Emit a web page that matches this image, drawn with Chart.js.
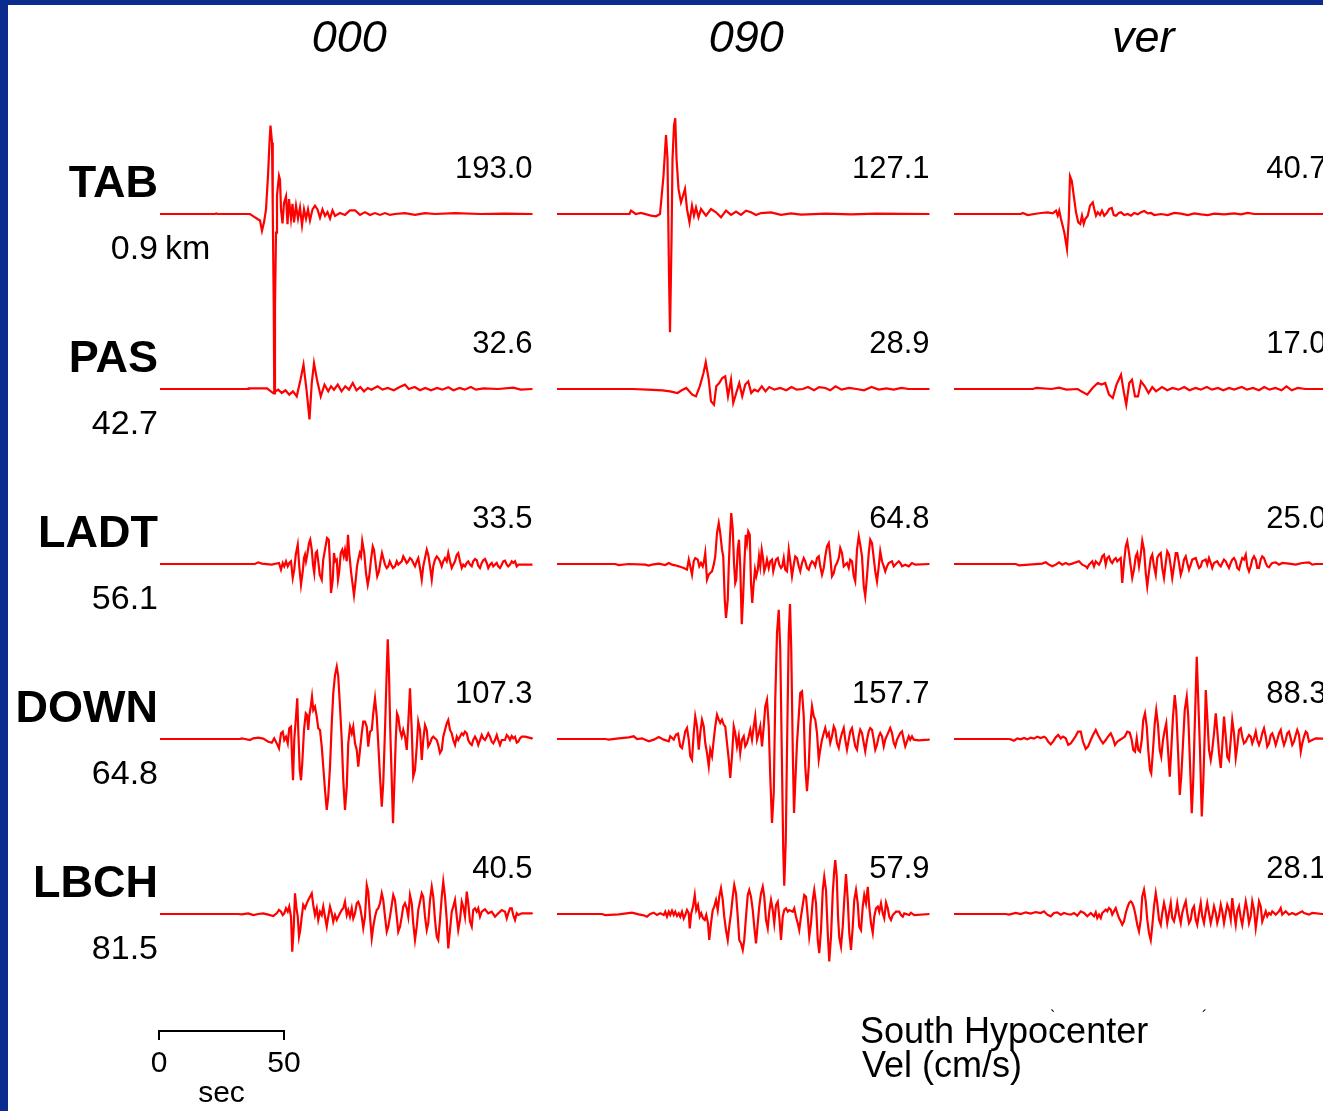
<!DOCTYPE html>
<html>
<head>
<meta charset="utf-8">
<script src="https://cdn.jsdelivr.net/npm/chart.js@4.4.1/dist/chart.umd.min.js"></script>
<style>
  html, body { margin: 0; padding: 0; background: #fff; }
  #wrap { width: 1323px; height: 1111px; }
</style>
</head>
<body>
<div id="wrap"><canvas id="seisChart" width="1323" height="1111"></canvas></div>
<script>
// stations (rows), components (columns), epicentral distance (km) and peak velocity (cm/s)
const STATIONS = ['TAB', 'PAS', 'LADT', 'DOWN', 'LBCH'];
const DISTANCES = ['0.9', '42.7', '56.1', '64.8', '81.5'];
const COMPONENTS = ['000', '090', 'ver'];
const PEAKS = [
    [193.0, 127.1, 40.7],
    [32.6, 28.9, 17.0],
    [33.5, 64.8, 25.0],
    [107.3, 157.7, 88.3],
    [40.5, 57.9, 28.1]
];
const SCALE_BAR = [0, 50];   // sec

// traces: [time (s), velocity (cm/s)]
const TAB_000 = [[0,0],[22,0],[22.5,0.5],[23,0],[36,0],[38,-3.6],[39,-5.4],[40,-7],[40.8,-18],[41.6,-9],[42.4,5],[43.2,41],[43.8,77],[44.2,95],[44.8,77],[45.1,5],[45.5,-100],[45.7,-193],[46,-100],[46.4,-20],[46.8,20],[47.6,41],[48,37],[48.4,5],[49,-10],[49.6,12],[50.4,19],[51,-11],[51.6,16],[52.4,-5],[53,11],[53.6,-9],[54.4,9],[55.2,-5],[56,7],[56.8,-12],[57.6,5],[58.4,-5],[59.2,5],[60,-7],[61,5],[62,9],[63,5],[64,-4],[65,5],[66,-2],[67,2],[68,-5],[69,4],[70,-2],[72,1],[74,-1],[76,4],[78,4],[80,-1],[82,2],[84,-1],[86,1],[88,-1],[90,1],[92,-1],[94,0],[98,1],[102,-1],[106,1],[110,0],[118,1],[128,0],[138,0.5],[149,0]];
const TAB_090 = [[0,0],[29,0],[29.6,3.6],[31.5,0],[33.6,1.1],[37.6,-1.8],[39.6,-2.5],[41.2,0],[42.6,41],[43.6,85],[44.2,59],[44.8,-66],[45.2,-127.1],[45.8,-30],[46.2,59],[46.8,95],[47.3,103],[47.8,60],[48.6,27],[49.6,12.5],[50.6,21.5],[51.2,27],[52,5.4],[53,-9],[54,9],[54.8,-1.8],[55.6,7],[56.6,-3.6],[57.6,5.4],[59.6,-1.8],[61.6,5.4],[63.6,1.8],[65.6,-3.6],[67.6,3.6],[69.6,-1],[71.6,2.5],[73.6,-1],[75.6,3.6],[77.6,1.8],[79.6,-1],[81.6,1],[85.6,1.8],[89.6,-1],[93.6,0.7],[97.6,-0.7],[107.6,0.4],[117.6,-0.4],[127.6,0.4],[149,0]];
const TAB_VER = [[0,0],[26.8,0],[27.5,1.1],[29.5,-1.1],[32.1,0],[34.8,1.1],[37.5,1.8],[39.5,0.7],[40.8,3.6],[41.5,-1.8],[42.1,3.6],[42.8,-5.4],[44.1,-19.7],[45.2,-37.6],[45.9,-5.4],[46.4,40.7],[47.1,35.8],[47.9,19.7],[48.8,1.8],[49.7,-9],[50.5,-10.7],[51.2,-1.8],[51.9,-10.7],[52.5,-5.4],[53.5,-1.8],[54.4,9],[55.5,12.5],[56.1,5.4],[56.8,-1.8],[57.5,1.8],[58.4,-1.1],[59.2,3.6],[60.1,-1.8],[61.1,1.1],[62.1,5.4],[63.1,6.4],[63.9,-1.1],[64.8,-1.8],[65.9,1.1],[66.8,1.8],[68.1,-1.1],[69.5,0],[70.8,-1.8],[72.1,1.1],[73.5,-0.4],[74.8,1.8],[76.1,3.2],[77.5,0.7],[78.8,1.1],[80.1,-1.1],[82.8,0],[85.5,-1.1],[88.1,1.1],[90.8,0.4],[93.5,-1.1],[96.1,0.7],[98.8,-0.4],[101.5,-1.1],[104.1,0.4],[108.1,-0.4],[112.1,0.7],[114.8,-0.4],[117.5,1.1],[120.1,0],[149,0]];

const PAS_000 = [[0,0],[35.3,0],[35.5,0.7],[42.8,0.7],[45.2,-4.3],[47.3,-0.7],[48.7,-4.3],[50.2,-1.4],[51.7,-6.1],[53.2,-2.5],[54.7,-7.9],[56.2,10],[57.4,26.1],[58.6,-0.7],[59.8,-32.6],[60.7,6.4],[61.6,27.9],[62.8,10],[64.3,-7.9],[65.8,4.7],[67.3,-2.5],[68.4,2.9],[69.6,-0.7],[71.1,4.7],[72.6,-2.5],[74.1,2.9],[75.6,-0.7],[77.1,6.4],[78.6,-1.4],[80.1,2.1],[81.6,-2.5],[83.1,1.1],[84.6,-0.7],[87,2.9],[89,-0.7],[91.1,1.1],[93.5,-1.4],[95.9,2.1],[98,4.7],[99.5,0],[101.9,2.1],[104,-1.4],[106.1,1.1],[108.4,-1.4],[110.8,1.1],[112.9,-0.7],[115.3,1.8],[117.4,-1.4],[119.8,1.1],[121.9,-0.7],[124.3,2.1],[126.4,-0.7],[129.3,0.7],[135.3,0],[141.3,1.4],[144.3,-0.7],[149,0]];
const PAS_090 = [[0,0],[30.2,0],[36.2,-0.7],[42.2,-1.4],[45.2,-2.5],[48.2,-4.3],[49.9,-1.4],[51.7,1.1],[52.9,-2.5],[54.1,-6.1],[55.6,-7.9],[57.1,2.9],[58.6,17.2],[59.5,28.9],[60.7,10],[61.6,-13.2],[62.8,-16.8],[63.7,2.9],[64.9,6.4],[66.1,11.8],[67.3,13.6],[68.4,-7.9],[69.6,10],[70.5,-15],[71.7,-4.3],[72.9,6.4],[74.1,-7.9],[75.3,4.7],[76.5,8.2],[77.7,-4.3],[78.9,-0.7],[80.4,-2.5],[81.9,2.9],[83.4,-2.5],[84.9,2.1],[87,-0.7],[89.3,1.1],[91.7,-1.4],[93.8,2.1],[95.9,-0.7],[98.3,0],[100.4,2.1],[102.8,-1.4],[104.9,2.1],[107.3,1.1],[109.3,-1.4],[111.4,2.9],[113.8,-0.7],[116.8,1.1],[119.8,0],[122.8,-1.4],[125.8,2.1],[128.7,-0.7],[131.7,0.7],[134.7,-0.7],[137.7,1.1],[140.7,0],[149,0]];
const PAS_VER = [[0,0],[31.5,0],[33,1.1],[39,0],[42,1.4],[45,-0.7],[49.5,0],[50.9,-2.5],[53.3,-6.1],[55.4,1.1],[57.5,6.4],[59,4.7],[60.5,6.4],[62,-6.1],[63.5,-9.7],[65,4.7],[66.8,15.4],[68,-4.3],[68.9,-17],[70.1,6.4],[71.2,10],[72.4,-7.9],[73.6,-7.9],[74.8,8.2],[76.3,2.9],[77.8,-4.3],[79.3,2.1],[80.8,-2.5],[83.2,2.1],[85.3,-1.4],[87.4,1.1],[89.8,-0.7],[92.1,2.1],[94.2,-1.4],[96.6,1.1],[98.7,-0.7],[101.1,2.1],[103.2,-0.7],[105.6,1.1],[107.7,-1.4],[110,1.1],[112.1,-0.7],[115.1,2.1],[117.2,-0.7],[119.6,1.1],[122,-1.4],[124.1,2.1],[126.2,-0.7],[128.6,1.1],[131,-1.4],[133,2.9],[135.1,-1.4],[137.5,1.1],[140.5,0],[149,0]];

const LADT_000 = [[0,0],[38,0],[39.3,1.8],[40.7,0.4],[44.7,-0.7],[47.6,1.1],[48.4,-6.1],[49.1,1.1],[49.7,-2.5],[50.4,2.9],[51.1,-2.5],[51.7,1.1],[52.4,2.9],[53.1,-15],[53.7,-6.1],[54.3,10],[55.1,20.8],[55.7,-2.5],[56.4,-22.2],[57.1,-7.9],[57.6,6.4],[58,10],[58.4,2.9],[58.9,10],[59.6,22.5],[60.1,26.1],[60.7,15.4],[61.2,-0.7],[61.7,-9.7],[62.3,11.8],[62.8,13.6],[63.3,2.9],[63.9,-11.5],[64.7,-16.8],[65.3,4.7],[66,15.4],[66.8,27.9],[67.5,26.1],[68,1.1],[68.4,-31.2],[69.1,-16.8],[69.6,11.8],[70.1,2.9],[70.7,4.7],[71.2,-16.8],[71.7,-7.9],[72.3,11.8],[72.9,15.4],[73.5,8.2],[74,15.4],[74.7,2.9],[75.2,31.5],[75.7,11.8],[76.4,-7.9],[76.9,-18.6],[77.6,-33.5],[78.3,-16.8],[78.8,-2.5],[79.3,4.7],[79.9,11.8],[80.4,8.2],[80.9,24.7],[81.7,11.8],[82.4,-9.7],[83.1,-22.2],[83.7,-13.2],[84.4,4.7],[85.1,19],[85.6,15.4],[86.3,-0.7],[86.9,-13.2],[87.6,-7.9],[88.3,4.7],[88.8,11.8],[89.3,6.4],[90,-0.7],[90.7,-4.3],[91.3,-2.5],[91.9,2.9],[92.5,-0.7],[93.2,-4.3],[94,-2.5],[94.7,2.9],[95.3,-0.7],[96.7,2.9],[97.3,8.2],[98,4.7],[98.7,1.1],[99.3,2.9],[100,6.4],[100.7,4.7],[101.3,1.1],[102,-2.5],[102.7,2.9],[103.3,6.4],[104,-4.3],[104.7,-16.8],[105.3,-2.5],[106,6.4],[106.7,15.4],[107.3,10],[108,-2.5],[108.7,-16.8],[109.3,-2.5],[110,4.7],[110.7,8.2],[111.3,6.4],[112,2.9],[112.7,-2.5],[113.3,2.9],[114,6.4],[114.7,2.9],[115.3,11.8],[116,2.9],[116.7,-4.3],[117.3,-0.7],[118,2.9],[118.7,10],[119.3,11.8],[120,2.9],[120.7,-4.3],[121.3,-0.7],[122,-2.5],[122.7,1.1],[123.3,2.9],[124,-0.7],[124.7,-2.5],[125.3,2.9],[126,5.4],[126.7,4],[127.3,-1.8],[128,-4.3],[128.7,1.1],[129.3,4],[130,5.4],[130.7,1.1],[131.3,-4.3],[132,-0.7],[132.7,1.1],[133.3,-2.5],[134.7,1.1],[135.3,-2.5],[136,-4.3],[136.7,-0.7],[137.3,2.9],[138,3.6],[138.7,-0.7],[139.3,-2.5],[140,-0.7],[140.7,2.9],[141.3,1.1],[142,2.9],[142.7,-2.5],[143.3,-0.7],[149,-0.7]];
const LADT_090 = [[0,0],[23.3,0],[24.7,-1.1],[28.7,0],[35.3,-0.7],[36.7,-1.8],[38,-0.7],[40.7,0.4],[43.3,-1.1],[44.7,1.1],[46,-0.7],[47.3,-1.4],[48.7,-2.5],[50.7,-4.3],[52,-6.1],[52.7,4.7],[53.3,-2.5],[54,-11.5],[54.7,2.9],[55.3,6.4],[56.3,4.7],[56.9,-2.5],[57.6,1.1],[58.3,-2.5],[58.8,2.9],[59.3,11.8],[60,-16.8],[60.7,-11.5],[61.3,-9.7],[62,-7.9],[62.7,-0.7],[63.3,8.2],[64,33.3],[64.7,44],[65.3,33.3],[66,15.4],[66.5,8.2],[67.1,-38.3],[67.6,-58],[68.3,-38.3],[68.7,-2.5],[69.2,29.7],[69.7,54.8],[70.3,36.9],[70.8,1.1],[71.3,-20.4],[71.7,-16.8],[72.3,15.4],[72.8,26.1],[73.3,-2.5],[73.9,-64.8],[74.4,-38.3],[74.9,-2.5],[75.5,31.5],[76,22.5],[76.5,35.1],[77.1,31.5],[77.6,-20.4],[78.1,-41.9],[78.7,-20.4],[79.2,-6.1],[79.7,-13.2],[80.3,-6.1],[80.8,8.2],[81.3,-2.5],[81.9,15.4],[82.4,6.4],[82.9,-7.9],[83.5,-2.5],[84,4.7],[84.7,-4.3],[85.3,2.9],[86,4.7],[86.5,-7.9],[87.1,-0.7],[87.6,4.7],[88.3,6.4],[88.9,-0.7],[89.6,-4.3],[90.1,-2.5],[90.7,6.4],[91.3,-6.1],[92,-7.9],[92.7,15.4],[93.3,2.9],[94,-13.2],[94.7,-0.7],[95.3,8.2],[96,6.4],[96.7,-2.5],[97.3,-7.9],[98,1.1],[98.7,6.4],[99.3,2.9],[100,-4.3],[100.7,-6.1],[101.3,-0.7],[102,2.9],[102.7,1.1],[103.3,-2.5],[104,6.4],[104.7,8.2],[105.3,-2.5],[106,-11.5],[106.7,-4.3],[107.3,8.2],[108,19],[108.7,22.5],[109.3,8.2],[110,-13.2],[110.7,-9.7],[111.3,-2.5],[112,1.1],[112.7,6.4],[113.3,17.2],[114,11.8],[114.7,-2.5],[116,1.1],[116.7,-4.3],[117.3,4.7],[118,2.9],[118.7,-13.2],[119.3,-18.6],[120,15.4],[120.7,29.7],[121.3,20.8],[122,8.2],[122.7,-24],[123.3,-34.7],[124,-13.2],[124.7,11.8],[125.3,26.1],[126,22.5],[126.7,6.4],[127.3,-7.9],[128,-18.6],[128.7,-2.5],[129.3,13.6],[130,2.9],[130.7,-2.5],[131.3,-7.9],[132,-2.5],[132.7,1.1],[134,2.9],[134.7,-2.5],[135.3,-0.7],[136.7,2.9],[137.3,1.1],[138,-2.5],[139.3,-0.7],[140.7,-2.5],[142,1.1],[143.3,-0.7],[149,0]];
const LADT_VER = [[0,0],[24.7,0],[26,-1.4],[35.3,0.4],[36.7,1.8],[38,-0.7],[39.3,-2.5],[40.7,-0.7],[42,1.8],[43.3,-0.7],[44.7,1.1],[46,-0.7],[47.3,0.4],[48.7,1.8],[50,2.9],[51.3,-0.7],[52.7,-2.5],[53.3,-4.3],[54,-0.7],[54.7,1.1],[55.3,2.9],[56,-2.5],[56.7,2.9],[57.3,1.1],[58,-0.7],[58.7,2.9],[59.3,8.2],[60,10],[60.7,-0.7],[61.3,6.4],[62,8.2],[62.7,2.9],[63.3,1.1],[64,4.7],[64.7,6.4],[65.3,2.9],[66,4.7],[66.7,6.4],[67.3,-20.4],[68,1.1],[68.7,19],[69.3,24.3],[70,11.8],[70.7,-2.5],[71.3,-15],[72,-6.1],[72.7,8.2],[73.3,11.8],[74,-2.5],[74.7,10],[75.3,25],[76,15.4],[76.7,-9.7],[77.3,-24],[78,-7.9],[78.7,6.4],[79.3,10],[80,-2.5],[80.7,-11.5],[81.3,6.4],[82,10],[82.7,11.8],[83.3,-4.3],[84,-15],[84.7,1.1],[85.3,13.6],[86,10],[86.7,-2.5],[87.3,-15],[88,-2.5],[88.7,11.8],[89.3,11.8],[90,1.1],[90.7,-11.5],[91.3,-6.1],[92,4.7],[92.7,8.2],[93.3,1.1],[94,-6.1],[94.7,-0.7],[95.3,4.7],[96.7,6.4],[97.3,1.1],[98,-4.3],[98.7,-2.5],[99.3,2.9],[100.7,4.7],[101.3,-0.7],[102,6.4],[102.7,1.1],[103.3,-4.3],[104,1.1],[105.3,2.9],[106,-0.7],[106.7,-2.5],[107.3,1.1],[108,4.7],[108.7,2.9],[109.3,-0.7],[110,-4.3],[110.7,1.1],[111.3,4.7],[112,6.4],[112.7,2.9],[113.3,-4.3],[114,-6.1],[114.7,1.1],[115.3,6.4],[116,4.7],[116.7,10],[117.3,-2.5],[118,-7.9],[118.7,-2.5],[119.3,4.7],[120,8.2],[120.7,4.7],[121.3,-4.3],[122,-4.3],[122.7,4.7],[123.3,8.2],[124,6.4],[124.7,1.1],[125.3,-2.5],[126,-3.6],[126.7,-0.7],[127.3,1.1],[128.7,1.8],[130,-0.7],[131.3,1.1],[134,0.4],[136.7,-0.7],[139.3,1.1],[142,1.8],[143.3,-0.7],[144.7,0],[149,0]];

const DOWN_000 = [[0,0],[32,0],[32.7,0.7],[34,0],[36,-1.1],[37.3,0.7],[39.3,1.4],[41.3,0.4],[43.3,-2.9],[44.7,-4],[45.7,0.7],[46.7,-4.7],[47.6,-10],[48.4,6.1],[49.1,7.9],[49.7,-1.1],[50.4,2.5],[51.1,-4.7],[51.7,11.5],[52.4,13.2],[52.8,-18.6],[53.2,-44.4],[53.7,-1.1],[54.4,23.9],[54.9,43.7],[55.3,9.7],[55.9,-33.2],[56.4,-44.4],[56.9,-26.1],[57.6,9.7],[58.3,27.6],[58.8,25.8],[59.3,9.7],[59.7,24],[60.3,34.7],[60.8,45.5],[61.3,31.1],[62,34.7],[62.7,24],[63.3,11.5],[64,9.7],[64.7,-8.2],[65.3,-29.7],[66,-54.8],[66.7,-76.2],[67.3,-61.9],[68,-29.7],[68.7,16.8],[69.3,49],[70,68.7],[70.7,77.7],[71.3,67],[72,34.7],[72.7,-1.1],[73.3,-44],[74,-76.2],[74.7,-51.2],[75.3,-4.7],[76,13.2],[76.7,6.1],[77.3,13.2],[78,-4.7],[78.7,-11.8],[79.3,-29.7],[80,-11.8],[80.7,6.1],[81.3,18.6],[82,18.6],[82.7,13.2],[83.3,-8.2],[84,7.9],[84.7,9.7],[85.3,27.6],[86,43.7],[86.7,24],[87.3,-4.7],[88,-40.5],[88.7,-72.7],[89.3,-47.6],[90,9.7],[90.7,74.2],[91.1,107.3],[91.6,70.6],[92.1,9.7],[92.7,-44],[93.2,-90.6],[93.7,-51.2],[94.3,-1.1],[94.8,27.6],[95.3,24],[96,9.7],[96.7,2.5],[97.3,9.7],[98,2.5],[98.7,-11.8],[99.3,16.8],[100,54.4],[100.7,9.7],[101.3,-40.5],[102,-33.3],[102.7,-8.2],[103.3,18.6],[104,9.7],[104.7,-22.6],[105.3,-1.1],[106,15],[106.7,9.7],[107.3,-8.2],[108,-4.7],[108.7,0.7],[109.3,2.5],[110.7,-1.1],[111.3,-6.4],[112,-15],[112.7,-11.8],[113.3,2.5],[114,9.7],[114.7,16.8],[115.3,20.4],[116,9.7],[116.7,6.1],[117.3,-1.1],[118,-6.4],[118.7,2.5],[119.3,-1.1],[120.7,6.1],[121.3,4.3],[122,7.9],[122.7,6.1],[123.3,-1.1],[124,-4.7],[124.7,-6.4],[125.3,-1.1],[126,2.5],[126.7,-1.1],[127.3,-6.4],[128,-1.1],[128.7,4.3],[129.3,0.7],[130,-1.1],[130.7,2.5],[131.3,6.1],[132,2.5],[132.7,-2.9],[133.3,-4.7],[134,-1.1],[134.7,4.3],[135.3,-1.1],[136,-6.4],[136.7,-1.1],[138,-1.1],[138.7,4.3],[139.3,2.5],[140,-1.1],[140.7,3.2],[141.3,0.7],[142,2.5],[142.7,-3.9],[143.3,-2.9],[144,0.7],[144.7,2.5],[146,2.5],[148.7,0.7],[149,0]];
const DOWN_090 = [[0,0],[19.3,0],[20.7,-0.7],[24.7,0.7],[28.7,1.8],[30.7,2.9],[32,0],[34,0.7],[36.7,-2.5],[38.7,-0.7],[40.7,2.1],[42.7,-0.7],[44.7,-2.5],[45.3,2.9],[46.7,-0.7],[47.6,4.7],[48.4,5.7],[49.3,-7.9],[50,-9.7],[50.7,-0.7],[51.3,8.2],[52,11.8],[52.7,-0.7],[53.3,-18.6],[54,-22.2],[54.7,6.4],[55.3,24.3],[56,13.6],[56.7,-11.5],[57.3,6.4],[58,20.8],[58.7,13.6],[59.3,-4.3],[60,-15],[60.7,-29.4],[61.3,-11.5],[62,-18.6],[62.7,-0.7],[63.3,13.6],[64,26.1],[64.7,20.8],[65.3,17.2],[66,20.8],[66.7,15.4],[67.3,13.6],[68,-4.3],[68.7,-22.2],[69.3,-41.9],[70,-18.6],[70.7,13.6],[71.3,6.4],[72,-7.9],[72.7,2.9],[73.3,-15],[74,-0.7],[74.7,2.9],[75.3,-7.9],[76,-4.3],[76.7,2.9],[77.3,10],[78,-0.7],[78.7,13.6],[79.3,24.3],[80,-0.7],[80.7,6.4],[81.3,13.6],[82,-7.9],[82.7,13.6],[83.3,35.1],[84,42.2],[84.7,13.6],[85.3,-40.1],[86,-90.2],[86.7,-58],[87.3,42.2],[88,113.8],[88.7,139],[89.3,96],[90,-29.4],[90.5,-120],[90.9,-157.7],[91.5,-110],[92,-11.5],[92.7,113.8],[93.2,145],[93.7,96],[94.3,-11.5],[94.8,-79.5],[95.3,-47.3],[96,-4.3],[96.7,24.3],[97.3,49.4],[98,51.2],[98.7,24.3],[99.3,-29.4],[100,-56.2],[100.7,-29.4],[101.3,13.6],[102,35.1],[102.7,24.3],[103.3,20.8],[104,6.4],[104.7,-22.2],[105.3,-11.5],[106,-0.7],[106.7,6.4],[107.3,11.8],[108,2.9],[108.7,6.4],[109.3,-4.3],[110,2.9],[110.7,13.6],[111.3,10],[112,-4.3],[112.7,-9.7],[113.3,-0.7],[114,6.4],[114.7,11.8],[115.3,-0.7],[116,-11.5],[116.7,-0.7],[117.3,8.2],[118,11.8],[118.7,1.1],[119.3,-7.9],[120,-11.5],[120.7,2.9],[121.3,10],[122,6.4],[122.7,-4.3],[123.3,-13.2],[124,-0.7],[124.7,8.2],[125.3,11.8],[126,10],[126.7,-0.7],[127.3,-11.5],[128,-6.1],[128.7,2.9],[129.3,6.4],[130,2.9],[130.7,-7.9],[131.3,-0.7],[132.7,8.2],[133.3,11.8],[134,6.4],[134.7,-4.3],[135.3,-7.9],[136,-0.7],[137.3,6.4],[138,8.2],[138.7,-0.7],[139.3,-7.9],[140,-2.5],[140.7,2.9],[141.3,-0.7],[142,2.9],[142.7,-0.7],[144.7,-1.4],[148.7,-0.7],[149,0]];
const DOWN_VER = [[0,0],[22,0],[22.7,-0.4],[24,-1.8],[25.3,0.7],[26.7,-0.4],[28,1.1],[29.3,-0.4],[30.7,1.4],[32,0.4],[33.3,2.5],[34.7,1.1],[36,2.5],[36.7,1.4],[37.7,-2.9],[38.7,-5.7],[39.6,-2.9],[40.7,1.8],[41.7,4.3],[42.7,0.7],[43.6,2.5],[44.7,0.7],[45.7,-6.4],[46.7,-4.7],[47.6,-1.1],[48.7,3.2],[49.6,7.9],[50.7,7.9],[51.6,-2.9],[52.7,-10.7],[53.6,-8.2],[54.7,-1.1],[55.6,4.3],[56.7,9.7],[57.6,4.3],[58.7,-1.1],[59.6,-4.7],[60.7,-1.1],[61.6,2.5],[62.7,6.1],[63.6,0.7],[64.4,-6.4],[65.3,-2.9],[66.3,-1.1],[67.3,0.7],[68.3,2.5],[69.3,7.9],[70.3,6.8],[71.1,-1.1],[71.7,-11.8],[72.4,-13.6],[73.1,0.7],[73.7,-11.8],[74.4,-13.6],[75.1,-1.1],[75.7,20.4],[76.4,27.6],[77.1,13.2],[77.7,-11.8],[78.4,-33.3],[78.9,-36.9],[79.6,-11.8],[80.3,16.8],[80.9,31.1],[81.6,15],[82.3,-11.8],[82.9,-19],[83.6,-1.1],[84.3,9.7],[84.9,16.8],[85.6,-11.8],[86.3,-40.5],[86.9,-11.8],[87.6,24],[88.3,47.3],[88.9,31.1],[89.6,-11.8],[90.3,-60.1],[90.9,-40.5],[91.6,-4.7],[92.3,31.1],[93.1,45.5],[93.7,24],[94.4,-26.1],[95.1,-79.8],[95.7,-44],[96.4,24],[97.1,88.3],[97.7,41.9],[98.4,-11.8],[99.1,-83.4],[99.7,-47.6],[100.3,6.1],[100.7,52.6],[101.3,24],[102,-11.8],[102.7,-22.6],[103.3,-11.8],[104,6.1],[104.7,27.6],[105.3,9.7],[106,-15],[106.7,-31.1],[107.3,-8.2],[108,24],[108.7,2.5],[109.3,-19],[110,-22.6],[110.7,-1.1],[111.3,20.4],[112,6.1],[112.7,-20.4],[113.3,-8.2],[114,9.7],[114.7,11.5],[115.3,2.5],[116,-4.7],[116.7,-2.9],[117.3,0.7],[118,4.3],[118.7,2.5],[119.3,-4.7],[120,0.7],[120.7,7.9],[121.3,-1.1],[122,-6.4],[122.7,-1.1],[123.3,6.1],[124,11.5],[124.7,2.5],[125.3,-8.2],[126,-4.7],[126.7,4.3],[127.3,6.1],[128,0.7],[128.7,-6.4],[129.3,-1.1],[130,6.1],[130.7,9.7],[131.3,0.7],[132,-6.4],[132.7,-1.1],[133.3,6.1],[134,7.9],[134.7,0.7],[135.3,-6.4],[136,-2.9],[136.7,4.3],[137.3,9.7],[138,4.3],[138.7,-13.6],[139.3,-4.7],[140,2.5],[140.7,7.9],[141.3,6.1],[142,-2.9],[143.3,-1.1],[144.7,0.7],[147.3,0.4],[149,0]];

const LBCH_000 = [[0,0],[31.3,0],[32.7,-0.4],[35.3,0.7],[37.3,-1.1],[39.3,0],[41.3,0.7],[43.3,-0.7],[45.3,-2.1],[46.7,0.7],[47.6,4.3],[48.4,2.5],[49.1,-1.1],[49.7,0.7],[50.4,6.1],[51.1,2.5],[51.7,7.9],[52.4,-2.9],[52.9,-40.5],[53.5,-13.6],[54,22.2],[54.5,7.9],[55.1,-2.9],[55.6,-24.3],[56.1,-17.2],[56.7,-2.9],[57.3,9.7],[58,6.1],[58.7,11.5],[59.3,15],[60,18.6],[60.7,22.2],[61.3,9.7],[62,-1.1],[62.7,6.1],[63.3,-6.4],[64,2.5],[64.7,-1.1],[65.3,7.9],[66,-2.9],[66.7,-13.6],[67.3,-2.9],[68,7.9],[68.7,0.7],[69.3,-8.2],[70,-1.1],[70.7,-6.4],[71.3,-2.9],[72,0.7],[72.7,4.3],[73.3,6.1],[74,13.2],[74.7,-1.1],[75.3,4.3],[76,-2.9],[76.7,6.1],[77.3,-4.7],[78,0.7],[78.7,11.5],[79.3,13.2],[80,7.9],[80.7,-2.9],[81.3,-15],[82,-2.9],[82.7,31.1],[83.3,24],[84,-2.9],[84.7,-26.1],[85.3,-13.6],[86,-2.9],[86.7,4.3],[87.3,6.1],[88,11.5],[88.7,22.2],[89.3,15],[90,-2.9],[90.7,-19],[91.3,-13.6],[92,-2.9],[92.7,9.7],[93.3,20.4],[94,15],[94.7,-2.9],[95.3,-19],[96,-13.6],[96.7,-2.9],[97.3,7.9],[98,11.5],[98.7,6.1],[99.3,-2.9],[100,20.4],[100.7,11.5],[101.3,-10],[102,-27.9],[102.7,-13.6],[103.3,4.3],[104,13.2],[104.7,22.2],[105.3,18.6],[106,-2.9],[106.7,-17.2],[107.3,-10],[108,15],[108.7,29.3],[109.3,18.6],[110,-6.4],[110.7,-24.3],[111.3,-27.9],[112,-6.4],[112.7,18.6],[113.3,34.7],[114,18.6],[114.7,-6.4],[115.3,-36.9],[116,-17.2],[116.7,2.5],[117.3,7.9],[118,15],[118.7,-2.9],[119.3,-17.2],[120,-6.4],[120.7,13.2],[121.3,7.9],[122,-2.9],[122.7,24],[123.3,11.5],[124,-8.2],[124.7,-13.6],[125.3,4.3],[126,6.1],[126.7,2.5],[127.3,6.1],[128,-2.9],[128.7,2.5],[130,5],[131.3,0.7],[132.7,2.5],[134,-2.9],[135.3,0.7],[136.7,4.3],[138,2.5],[138.7,-4.7],[139.3,0.7],[140,6.1],[140.7,6.1],[141.3,-1.1],[142,-6.4],[142.7,0.7],[143.3,-1.1],[144.7,0.7],[148.7,0.7],[149,0]];
const LBCH_090 = [[0,0],[18,0],[19.3,-1.1],[24.7,-0.4],[30,1.4],[32.7,-0.4],[34.7,-1.4],[36,-2.9],[37.3,0],[38.7,1.4],[40,-1.1],[41.3,0.7],[42.7,-1.1],[43.3,2.5],[44,-2.9],[44.7,2.5],[45.3,-1.1],[46,3.6],[46.7,-1.1],[47.3,2.5],[48,-2.1],[48.7,0.7],[49.3,-2.9],[50,2.5],[50.7,-4.7],[51.3,-1.1],[52,4.3],[52.7,0.7],[53.1,-15.4],[53.7,0.7],[54.4,7.9],[55.1,20.4],[55.7,4.3],[56.4,9.7],[57.1,-2.9],[57.7,0.7],[58.4,-4.7],[59.1,-6.4],[59.7,-1.1],[60.4,-10],[60.9,-27.9],[61.6,-10],[62.3,4.3],[62.9,7.9],[63.6,15],[64.3,4.3],[64.9,18.6],[65.6,27.6],[66.3,15],[66.9,-2.9],[67.6,-17.2],[68.3,-27.9],[68.9,-13.6],[69.6,0.7],[70.3,18.6],[70.9,31.1],[71.6,22.2],[72.3,-2.9],[72.9,-27.9],[73.6,-31.5],[74.3,-38.7],[74.9,-27.9],[75.6,-2.9],[76.3,20.4],[76.9,25.8],[77.6,18.6],[78.3,4.3],[78.9,-13.6],[79.6,-31.5],[80.3,-10],[80.9,7.9],[81.6,22.2],[82.3,29.3],[82.9,18.6],[83.6,-6.4],[84.3,-15.4],[84.9,2.5],[85.6,15],[86.3,4.3],[86.9,-10],[87.6,9.7],[88.3,13.2],[88.9,-2.9],[89.6,-27.9],[90.3,-2.9],[90.9,4.3],[91.6,6.1],[92.3,2.5],[92.9,4.3],[94.3,2.5],[94.9,6.1],[95.6,-2.9],[96.3,-10],[96.9,-17.2],[97.6,-2.9],[98.3,9.7],[98.9,20.4],[99.6,18.6],[100.3,-2.9],[100.9,-24.3],[101.6,-10],[102.3,15],[102.9,25.8],[103.6,11.5],[104.3,-27.9],[104.9,-42.2],[105.6,-17.2],[106.3,25.8],[106.9,40.1],[107.6,25.8],[108.3,-20.4],[108.9,-51],[109.6,-24.3],[110.3,22.2],[110.9,47],[111.3,57.9],[111.9,40],[112.4,-2],[112.9,-25],[113.6,-35],[114.3,-13.6],[114.9,15],[115.6,43],[116.3,15],[116.9,-20.4],[117.6,-38.7],[118.3,-13.6],[118.9,15],[119.6,25.8],[120.3,11.5],[120.9,-13.6],[121.6,-17.2],[122.3,7.9],[122.9,20.4],[123.6,11.5],[124.3,29.3],[124.9,7.9],[125.6,-10],[126.3,-20.4],[126.9,-2.9],[127.6,6.1],[128.3,7.9],[128.9,2.5],[129.6,11.5],[130.3,0.7],[130.9,-4.7],[131.6,12.2],[132.3,6.1],[132.9,-2.9],[133.6,-6.4],[134.3,-1.1],[135.6,2.5],[136.9,2.5],[137.6,-1.1],[138.3,-2.9],[138.9,0.7],[140.9,-1.1],[141.6,1.4],[142.9,-1.1],[149,0]];
const LBCH_VER = [[0,0],[20.7,0],[22,-0.7],[24.7,1.1],[26.7,0],[28.7,1.8],[30.7,0.4],[32.7,2.1],[34.7,1.1],[36,2.9],[37.3,-0.7],[38.7,-2.5],[40,1.1],[41.3,1.8],[42.7,-0.7],[44,1.1],[45.3,0],[46.7,-0.7],[48,1.1],[49.3,-1.8],[50.7,2.9],[52,1.1],[53.3,-2.5],[54.7,1.1],[56,-2.5],[56.7,1.8],[57.3,-4.3],[58,-0.7],[58.7,-4.3],[59.3,1.1],[60.7,4.7],[61.3,2.9],[62,6.4],[62.7,4.7],[63.3,-0.7],[64,2.9],[64.7,6.4],[65.3,1.1],[66,-4.3],[66.7,-7.9],[67.3,-11.5],[68,-7.9],[68.7,1.1],[69.3,6.4],[70,11.8],[70.7,13.6],[71.3,11.8],[72,6.4],[72.7,-2.5],[73.3,-11.5],[74,-18.6],[74.7,-6.1],[75.3,19],[76,26.1],[76.7,13.6],[77.3,-6.1],[78,-20.4],[78.7,-28.1],[79.3,-13.2],[80,8.2],[80.7,22.5],[81.3,11.8],[82,-6.1],[82.7,-11.5],[83.3,1.1],[84,11.8],[84.7,2.9],[85.3,-9.7],[86,1.1],[86.7,11.8],[87.3,-4.3],[88,-7.9],[88.7,1.1],[89.3,11.8],[90,-0.7],[90.7,-9.7],[91.3,1.1],[92,8.2],[92.7,13.6],[93.3,1.1],[94,-9.7],[94.7,-6.1],[95.3,4.7],[96,8.2],[96.7,-6.1],[97.3,-11.5],[98,1.1],[98.7,11.8],[99.3,-2.5],[100,-9.7],[100.7,2.9],[101.3,11.8],[102,1.1],[102.7,-9.7],[103.3,-2.5],[104,8.2],[104.7,1.1],[105.3,-9.7],[106,-2.5],[106.7,10],[107.3,2.9],[108,-9.7],[108.7,1.1],[109.3,10],[110,4.7],[110.7,-6.1],[111.3,17.2],[112,1.1],[112.7,-11.5],[113.3,2.9],[114,8.2],[114.7,-4.3],[115.3,-11.5],[116,1.1],[116.7,13.6],[117.3,4.7],[118,-9.7],[118.7,-2.5],[119.3,13.6],[120,4.7],[120.7,-15],[121.3,-2.5],[122,13.6],[122.7,8.2],[123.3,-7.9],[124,-2.5],[124.7,2.9],[125.3,-2.5],[126,1.1],[126.7,-0.7],[127.3,2.9],[128.7,-0.7],[130,2.9],[130.7,6.4],[131.3,-0.7],[132.7,2.9],[134,-0.7],[135.3,1.1],[136.7,-0.7],[138,1.1],[139.3,2.9],[140,1.1],[142,-0.7],[143.3,1.1],[147.3,0],[149,0]];

const TRACES = [
    [TAB_000, TAB_090, TAB_VER],
    [PAS_000, PAS_090, PAS_VER],
    [LADT_000, LADT_090, LADT_VER],
    [DOWN_000, DOWN_090, DOWN_VER],
    [LBCH_000, LBCH_090, LBCH_VER]
];

// page geometry: seconds and cm/s to pixels
const W = 1323, H = 1111;
const PX_PER_SEC = 2.5;
const PX_PER_CMS = 0.93;
const TRACE_LEN = 149;                 // sec
const COL_GAP = 397 / PX_PER_SEC;      // sec between column starts
const ROW_GAP = 175 / PX_PER_CMS;      // cm/s between row baselines
const X_MIN = -160 / PX_PER_SEC;
const X_MAX = X_MIN + W / PX_PER_SEC;
const Y_MAX = 214 / PX_PER_CMS;
const Y_MIN = Y_MAX - H / PX_PER_CMS;

const FONT = '"Liberation Sans", Arial, Helvetica, sans-serif';

const datasets = [];
TRACES.forEach((row, r) => {
    row.forEach((trace, c) => {
        datasets.push({
            label: STATIONS[r] + ' ' + COMPONENTS[c],
            data: trace.map(p => ({ x: p[0] + c * COL_GAP, y: p[1] - r * ROW_GAP })),
            showLine: true,
            borderColor: '#ff0000',
            borderWidth: 2.2,
            pointRadius: 0,
            fill: false,
            tension: 0
        });
    });
});

const framePlugin = {
    id: 'frame',
    beforeDraw(chart) {
        const ctx = chart.ctx;
        ctx.save();
        ctx.fillStyle = '#ffffff';
        ctx.fillRect(0, 0, W, H);
        ctx.fillStyle = '#0b2c8e';
        ctx.fillRect(0, 0, 8, H);
        ctx.fillRect(0, 0, W, 5);
        ctx.restore();
    }
};

const labelPlugin = {
    id: 'labels',
    afterDraw(chart) {
        const ctx = chart.ctx;
        const xs = chart.scales.x, ys = chart.scales.y;
        ctx.save();
        ctx.fillStyle = '#000';
        ctx.textBaseline = 'alphabetic';

        // component titles
        ctx.font = 'italic 45px ' + FONT;
        ctx.textAlign = 'center';
        COMPONENTS.forEach((name, c) => {
            ctx.fillText(name, xs.getPixelForValue(c * COL_GAP + TRACE_LEN / 2) + 3, 52);
        });

        const x0 = xs.getPixelForValue(0);
        STATIONS.forEach((st, r) => {
            const yb = ys.getPixelForValue(-r * ROW_GAP);
            ctx.textAlign = 'right';
            ctx.font = 'bold 45px ' + FONT;
            ctx.fillText(st, x0 - 2, yb - 17);
            ctx.font = '34px ' + FONT;
            ctx.fillText(DISTANCES[r], x0 - 2, yb + 45);
            if (r === 0) {
                ctx.textAlign = 'left';
                ctx.fillText('km', x0 + 5, yb + 45);
            }
            ctx.textAlign = 'right';
            ctx.font = '31px ' + FONT;
            PEAKS[r].forEach((p, c) => {
                ctx.fillText(p.toFixed(1), xs.getPixelForValue(c * COL_GAP + TRACE_LEN), yb - 36);
            });
        });

        // time scale bar
        const xa = xs.getPixelForValue(SCALE_BAR[0]) - 1;
        const xb = xs.getPixelForValue(SCALE_BAR[1]) - 1;
        const yBar = 1031;
        ctx.strokeStyle = '#000';
        ctx.lineWidth = 2;
        ctx.beginPath();
        ctx.moveTo(xa, yBar + 9);
        ctx.lineTo(xa, yBar);
        ctx.lineTo(xb, yBar);
        ctx.lineTo(xb, yBar + 9);
        ctx.stroke();
        ctx.font = '30px ' + FONT;
        ctx.textAlign = 'center';
        ctx.fillText(String(SCALE_BAR[0]), xa, 1072);
        ctx.fillText(String(SCALE_BAR[1]), xb, 1072);
        ctx.fillText('sec', (xa + xb) / 2, 1102);

        // caption
        ctx.textAlign = 'left';
        ctx.font = '36px ' + FONT;
        ctx.fillText('South Hypocenter', 860, 1043);
        ctx.fillText('Vel (cm/s)', 862, 1077);
        // two small stray marks in the source figure
        ctx.font = '16px ' + FONT;
        ctx.fillText('`', 1050, 1022);
        ctx.fillText('\u00b4', 1202, 1022);
        ctx.restore();
    }
};

const ctx = document.getElementById('seisChart').getContext('2d');
new Chart(ctx, {
    type: 'scatter',
    data: { datasets: datasets },
    options: {
        responsive: false,
        animation: false,
        devicePixelRatio: 1,
        layout: { padding: 0 },
        plugins: {
            legend: { display: false },
            tooltip: { enabled: false },
            title: { display: false }
        },
        scales: {
            x: { type: 'linear', display: false, min: X_MIN, max: X_MAX },
            y: { type: 'linear', display: false, min: Y_MIN, max: Y_MAX }
        }
    },
    plugins: [framePlugin, labelPlugin]
});
</script>
</body>
</html>
